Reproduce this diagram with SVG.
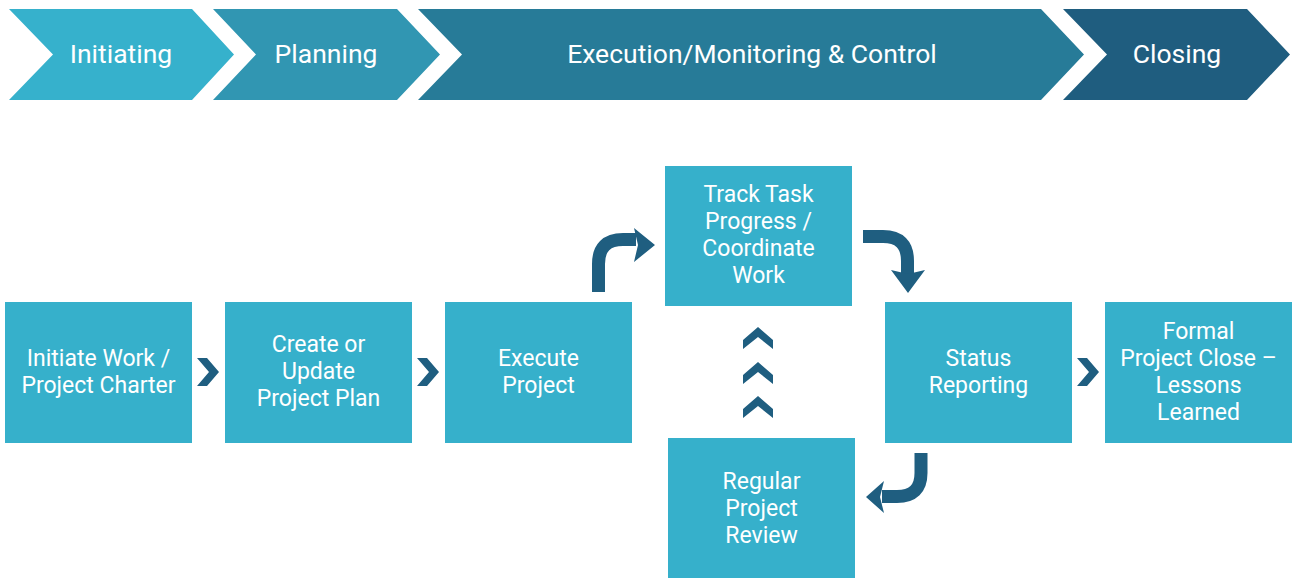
<svg xmlns="http://www.w3.org/2000/svg" width="1296" height="578" viewBox="0 0 1296 578">
<style>
.phase{font-family:Roboto,"Liberation Sans",sans-serif;font-size:26.5px;fill:#fff;text-anchor:middle}
.box{fill:#36b0cb}
.lbl{font-family:Roboto,"Liberation Sans",sans-serif;font-size:23px;fill:#fff;text-anchor:middle}
.dk{fill:#1f5e80}
.arr{fill:none;stroke:#1f5e80;stroke-width:13}
</style>
<rect width="1296" height="578" fill="#fff"/>
<g id="phase-initiating">
<polygon points="9,9 192,9 234,54.5 192,100 9,100 53,54.5" fill="#36b1cc"/>
<text class="phase" x="121" y="63">Initiating</text>
</g>
<g id="phase-planning">
<polygon points="213,9 397,9 440,54.5 397,100 213,100 256,54.5" fill="#3196b2"/>
<text class="phase" x="326" y="63">Planning</text>
</g>
<g id="phase-execution">
<polygon points="418,9 1041,9 1084,54.5 1041,100 418,100 462,54.5" fill="#277b98"/>
<text class="phase" x="752" y="63">Execution/Monitoring &amp; Control</text>
</g>
<g id="phase-closing">
<polygon points="1063,9 1247,9 1290,54.5 1247,100 1063,100 1107,54.5" fill="#1f5d7f"/>
<text class="phase" x="1177" y="63">Closing</text>
</g>

<g id="n-initiate"><rect class="box" x="5" y="302" width="187" height="141"/>
<text class="lbl" x="98.5" y="366">Initiate Work /</text><text class="lbl" x="98.5" y="393">Project Charter</text></g>
<g id="n-plan"><rect class="box" x="225" y="302" width="187" height="141"/>
<text class="lbl" x="318.5" y="352">Create or</text><text class="lbl" x="318.5" y="379">Update</text><text class="lbl" x="318.5" y="406">Project Plan</text></g>
<g id="n-execute"><rect class="box" x="445" y="302" width="187" height="141"/>
<text class="lbl" x="538.5" y="366">Execute</text><text class="lbl" x="538.5" y="393">Project</text></g>
<g id="n-track"><rect class="box" x="665" y="166" width="187" height="140"/>
<text class="lbl" x="758.5" y="202">Track Task</text><text class="lbl" x="758.5" y="229">Progress /</text><text class="lbl" x="758.5" y="256">Coordinate</text><text class="lbl" x="758.5" y="283">Work</text></g>
<g id="n-status"><rect class="box" x="885" y="302" width="187" height="141"/>
<text class="lbl" x="978.5" y="366">Status</text><text class="lbl" x="978.5" y="393">Reporting</text></g>
<g id="n-close"><rect class="box" x="1105" y="302" width="187" height="141"/>
<text class="lbl" x="1198.5" y="339">Formal</text><text class="lbl" x="1198.5" y="366">Project Close –</text><text class="lbl" x="1198.5" y="393">Lessons</text><text class="lbl" x="1198.5" y="420">Learned</text></g>
<g id="n-review"><rect class="box" x="668" y="438" width="187" height="140"/>
<text class="lbl" x="761.5" y="489">Regular</text><text class="lbl" x="761.5" y="516">Project</text><text class="lbl" x="761.5" y="543">Review</text></g>

<g id="connectors">
<polygon class="dk" points="197,358 207,358 219,372 207,386 197,386 209,372"/>
<polygon class="dk" points="417,358 427,358 439,372 427,386 417,386 429,372"/>
<polygon class="dk" points="1077,358 1087,358 1099,372 1087,386 1077,386 1089,372"/>
<polygon class="dk" points="758,327 773,340 773,349 758,337 743,349 743,340"/>
<polygon class="dk" points="758,362 773,375 773,384 758,372 743,384 743,375"/>
<polygon class="dk" points="758,396 773,409 773,418 758,406 743,418 743,409"/>
<path class="arr" d="M598.5 292 V264 Q598.5 239.5 623 239.5 H636"/>
<polygon class="dk" points="634,228 655,245 634,262 638,245"/>
<path class="arr" d="M863 236.5 H883 Q907.5 236.5 907.5 261 V274"/>
<polygon class="dk" points="891,270 908,274 925,270 908,293"/>
<path class="arr" d="M921 453 V473 Q921 496.5 897 496.5 H882"/>
<polygon class="dk" points="884,481 880,497 884,513 866,497"/>
</g>
</svg>
